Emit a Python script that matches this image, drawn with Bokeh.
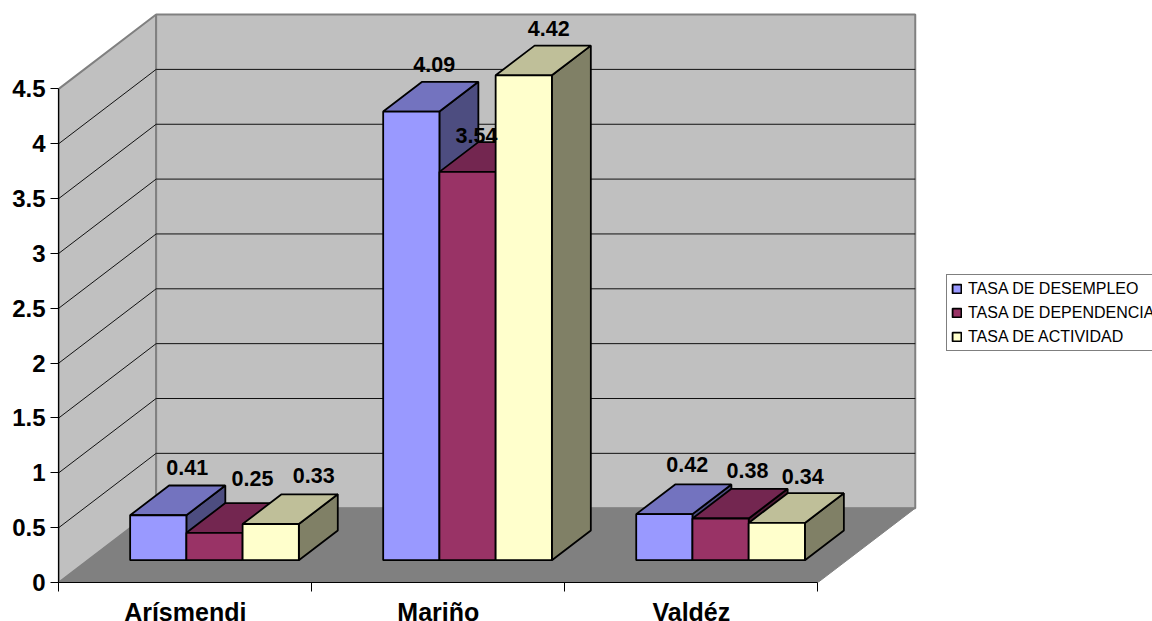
from bokeh.plotting import figure
from bokeh.models import (ColumnDataSource, FixedTicker, Legend, LegendItem,
                          LinearAxis, Range1d)
from bokeh.core.properties import value
from bokeh.embed import file_html
from bokeh.resources import INLINE

# ---- data -------------------------------------------------------------
categories = ["Arísmendi", "Mariño", "Valdéz"]
desempleo = [0.41, 4.09, 0.42]
dependencia = [0.25, 3.54, 0.38]
actividad = [0.33, 4.42, 0.34]
value_ticks = [0, 0.5, 1, 1.5, 2, 2.5, 3, 3.5, 4, 4.5]
value_tick_labels = ["0", "0.5", "1", "1.5", "2", "2.5", "3", "3.5", "4", "4.5"]
series_names = ["TASA DE DESEMPLEO", "TASA DE DEPENDENCIA", "TASA DE ACTIVIDAD"]
series_values = [desempleo, dependencia, actividad]

# ---- styling / layout --------------------------------------------------
FRONT = ["#9999FF", "#993366", "#FFFFCC"]
TOP = ["#7373BF", "#732650", "#BFBF99"]
SIDE = ["#4D4D80", "#4D1A33", "#808066"]
WALL = "#C0C0C0"
FLOOR = "#808080"
FONT = "Liberation Sans"

W, H = 1152, 621
BORDER_LEFT, BORDER_BOTTOM = 58, 39
PX_CAT, PX_VAL = 253.1, 109.7       # pixels per category / per unit of value
DX, DY = 97.4 / PX_CAT, 74.3 / PX_VAL  # full depth of the box in data units
F0, F1 = 0.30, 0.70                 # depth span of the bars
BAR_W = 1 / 4.5                     # gap width 150 %
N = len(categories)
YMAX = value_ticks[-1]

# pixel nudges of the data labels (series x category), from the bars' back edge
label_dx = [[-10, -16, -16], [-1, -30, -12], [4, -14, -13]]
label_dy = [[18, 17, 20], [25, 7, 18], [19, 17, 17]]

p = figure(width=W, height=H, output_backend="svg", toolbar_location=None,
           frame_width=W - BORDER_LEFT, frame_height=H - BORDER_BOTTOM,
           x_range=Range1d(-0.001, (W - BORDER_LEFT) / PX_CAT),
           y_range=Range1d(0, (H - BORDER_BOTTOM) / PX_VAL),
           x_axis_type=None, y_axis_type=None,
           min_border_left=BORDER_LEFT, min_border_right=0,
           min_border_top=0, min_border_bottom=BORDER_BOTTOM,
           outline_line_color=None, background_fill_color="white",
           border_fill_color="white")
p.grid.visible = False

# ---- box walls and floor ----------------------------------------------
p.patch([0, DX, DX, 0], [0, DY, YMAX + DY, YMAX], fill_color=WALL,
        line_color=FLOOR, line_width=2)
p.patch([DX, N + DX, N + DX, DX], [DY, DY, YMAX + DY, YMAX + DY],
        fill_color=WALL, line_color=FLOOR, line_width=2)
p.patch([0, N, N + DX, DX], [0, 0, DY, DY], fill_color=FLOOR,
        line_color=FLOOR, line_width=1)

# gridlines run along the side wall and across the back wall
grid_values = value_ticks[1:-1]
p.multi_line([[0, DX, N + DX] for _ in grid_values],
             [[v, v + DY, v + DY] for v in grid_values],
             line_color="#111111", line_width=1)

# ---- bars --------------------------------------------------------------
legend_items = []
label_x, label_y, label_text, label_xo, label_yo = [], [], [], [], []
for s, vals in enumerate(series_values):
    lefts = [c + 0.75 * BAR_W + s * BAR_W + F0 * DX for c in range(N)]
    rights = [l + BAR_W for l in lefts]
    y0 = F0 * DY
    depth_x = (F1 - F0) * DX
    depth_y = (F1 - F0) * DY
    tops = [y0 + v for v in vals]

    p.patches([[r, r + depth_x, r + depth_x, r] for r in rights],
              [[y0, y0 + depth_y, t + depth_y, t] for t in tops],
              fill_color=SIDE[s], line_color="black", line_width=1.8)
    p.patches([[l, l + depth_x, r + depth_x, r] for l, r in zip(lefts, rights)],
              [[t, t + depth_y, t + depth_y, t] for t in tops],
              fill_color=TOP[s], line_color="black", line_width=1.8)
    front = p.quad(left=lefts, right=rights, bottom=[y0] * N, top=tops,
                   fill_color=FRONT[s], line_color="black", line_width=1.8)
    legend_items.append(LegendItem(label=series_names[s], renderers=[front]))

    for c, v in enumerate(vals):
        label_x.append((lefts[c] + rights[c]) / 2 + depth_x)
        label_y.append(tops[c] + depth_y)
        label_text.append(f"{v:.2f}")
        label_xo.append(label_dx[s][c])
        label_yo.append(-label_dy[s][c])

labels = ColumnDataSource(dict(x=label_x, y=label_y, text=label_text,
                               xo=label_xo, yo=label_yo))
p.text(x="x", y="y", text="text", x_offset="xo", y_offset="yo", source=labels,
       text_font=value(FONT), text_font_style="bold", text_font_size="21.5px",
       text_align="center", text_baseline="middle", text_color="black")

# ---- axes --------------------------------------------------------------
yaxis = LinearAxis(ticker=FixedTicker(ticks=value_ticks),
                   major_label_overrides=dict(zip(value_ticks, value_tick_labels)),
                   bounds=(0, YMAX))
yaxis.major_label_text_font = FONT
yaxis.major_label_text_font_style = "bold"
yaxis.major_label_text_font_size = "24px"
yaxis.major_label_text_color = "black"
yaxis.major_label_standoff = 5
yaxis.major_tick_in = 0
yaxis.major_tick_out = 8
yaxis.minor_tick_line_color = None
yaxis.axis_line_color = "black"
yaxis.axis_line_width = 1.2
yaxis.major_tick_line_color = "black"
p.add_layout(yaxis, "left")

centers = [c + 0.5 for c in range(N)]
xaxis = LinearAxis(ticker=FixedTicker(ticks=centers, minor_ticks=list(range(N + 1))),
                   major_label_overrides=dict(zip(centers, categories)),
                   bounds=(0, N))
xaxis.major_label_text_font = FONT
xaxis.major_label_text_font_style = "bold"
xaxis.major_label_text_font_size = "25px"
xaxis.major_label_text_color = "black"
xaxis.major_label_standoff = 6
xaxis.major_tick_line_color = None
xaxis.major_tick_in = 0
xaxis.major_tick_out = 0
xaxis.minor_tick_in = 0
xaxis.minor_tick_out = 9
xaxis.minor_tick_line_color = "black"
xaxis.axis_line_color = "black"
xaxis.axis_line_width = 1.2
p.add_layout(xaxis, "below")

# ---- legend ------------------------------------------------------------
legend = Legend(items=legend_items, location=(888, 231), orientation="vertical",
                background_fill_color="white", background_fill_alpha=1,
                border_line_color="black", border_line_width=1,
                label_text_font=FONT, label_text_font_size="16px",
                label_text_color="black",
                glyph_width=11, glyph_height=11, label_standoff=6,
                label_height=19, spacing=5, padding=4, margin=0)
p.add_layout(legend, "center")

open("out.html", "w").write(file_html(p, INLINE))
